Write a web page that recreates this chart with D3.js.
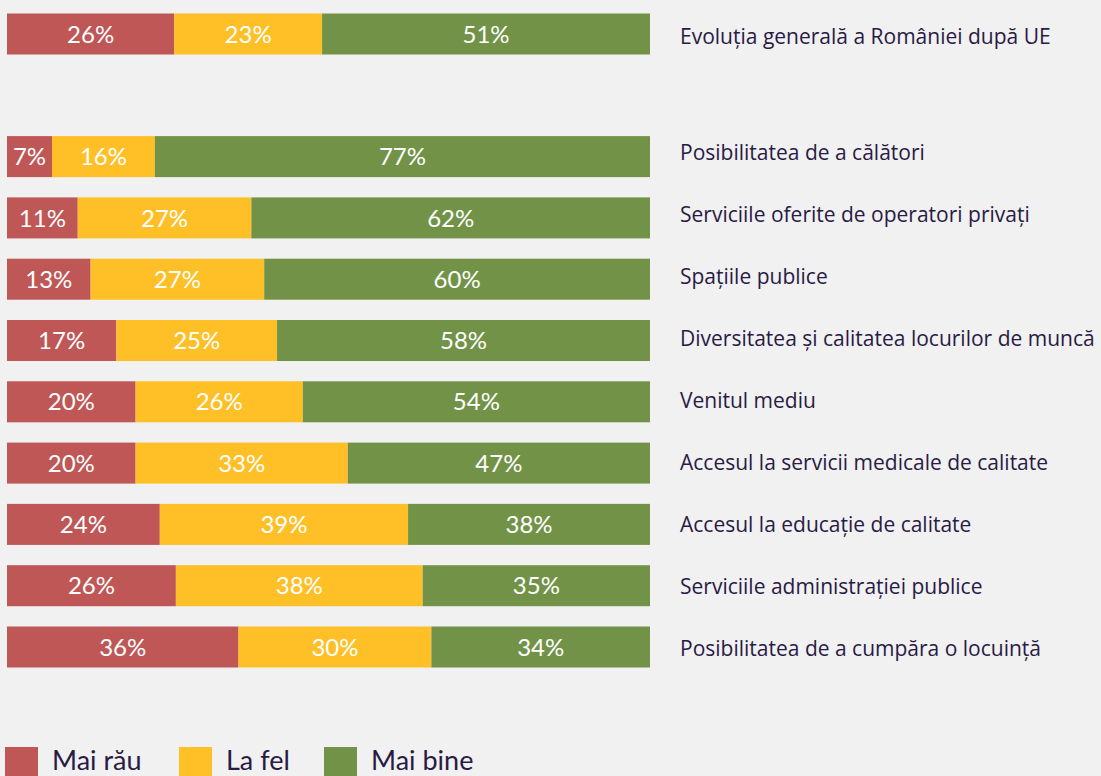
<!DOCTYPE html>
<html><head><meta charset="utf-8">
<script src="https://cdn.jsdelivr.net/npm/d3@7"></script>
<style>
html,body{margin:0;padding:0;background:#f0f1f0;}
svg{display:block;}
</style></head>
<body>
<svg id="chart" width="1101" height="776"></svg>
<script>
const categories = [
  "Evoluția generală a României după UE",
  "Posibilitatea de a călători",
  "Serviciile oferite de operatori privați",
  "Spațiile publice",
  "Diversitatea și calitatea locurilor de muncă",
  "Venitul mediu",
  "Accesul la servicii medicale de calitate",
  "Accesul la educație de calitate",
  "Serviciile administrației publice",
  "Posibilitatea de a cumpăra o locuință"
];
const maiRau   = [26, 7, 11, 13, 17, 20, 20, 24, 26, 36];
const laFel    = [23, 16, 27, 27, 25, 26, 33, 39, 38, 30];
const maiBine  = [51, 77, 62, 60, 58, 54, 47, 38, 35, 34];
const seriesNames = ["Mai rău", "La fel", "Mai bine"];
const seriesColors = ["#be5756", "#febf27", "#729347"];

const svg = d3.select("#chart");
const font = "Lato, 'Open Sans', sans-serif";
const labelFont = "'Open Sans', Lato, sans-serif";
const textColor = "#2a1a45";

// slots: first row, spacer, then the rest
const slots = [categories[0], "__gap__", ...categories.slice(1)];
const y = d3.scaleBand().domain(slots).range([13.5, 667.5]).paddingInner(0.331).paddingOuter(0);
// category labels sit on their own slightly different rhythm
const labelY = d3.scaleLinear().domain([0, 2, 10]).range([36, 152, 648]);

const x = d3.scaleLinear().domain([0, 1]).range([7, 650]);

const rows = categories.map((c, i) => {
  const vals = [maiRau[i], laFel[i], maiBine[i]];
  const total = d3.sum(vals);
  let acc = 0;
  return {cat: c, slot: slots.indexOf(c), segs: vals.map((v, k) => {
    const s = {k, v, x0: acc / total, x1: (acc + v) / total};
    acc += v;
    return s;
  })};
});

const g = svg.append("g");
const rowG = g.selectAll("g.row").data(rows).join("g")
  .attr("class", "row")
  .attr("transform", d => `translate(0,${y(d.cat)})`);

rowG.selectAll("rect").data(d => d.segs).join("rect")
  .attr("x", d => x(d.x0))
  .attr("width", d => x(d.x1) - x(d.x0))
  .attr("y", 0)
  .attr("height", y.bandwidth())
  .attr("fill", d => seriesColors[d.k]);

rowG.selectAll("text.val").data(d => d.segs).join("text")
  .attr("class", "val")
  .attr("x", d => (x(d.x0) + x(d.x1)) / 2)
  .attr("y", y.bandwidth() / 2)
  .attr("dy", "0.36em")
  .attr("text-anchor", "middle")
  .attr("fill", "#ffffff")
  .style("font-family", font)
  .style("font-size", "24px")
  .text(d => d.v + "%");

g.selectAll("text.cat").data(rows).join("text")
  .attr("class", "cat")
  .attr("x", 680)
  .attr("y", d => labelY(d.slot) + 7.5)
  .attr("fill", textColor)
  .style("font-family", labelFont)
  .style("font-size", "21px")
  .text(d => d.cat);

// legend
const legendX = [5, 179, 324];
const lg = svg.append("g").selectAll("g").data(seriesNames).join("g")
  .attr("transform", (d, i) => `translate(${legendX[i]},747)`);
lg.append("rect").attr("width", 33).attr("height", 33).attr("fill", (d, i) => seriesColors[i]);
lg.append("text")
  .attr("x", 47).attr("y", 23)
  .attr("fill", textColor)
  .style("font-family", font)
  .style("font-size", "27px")
  .text(d => d);
</script>
</body></html>
